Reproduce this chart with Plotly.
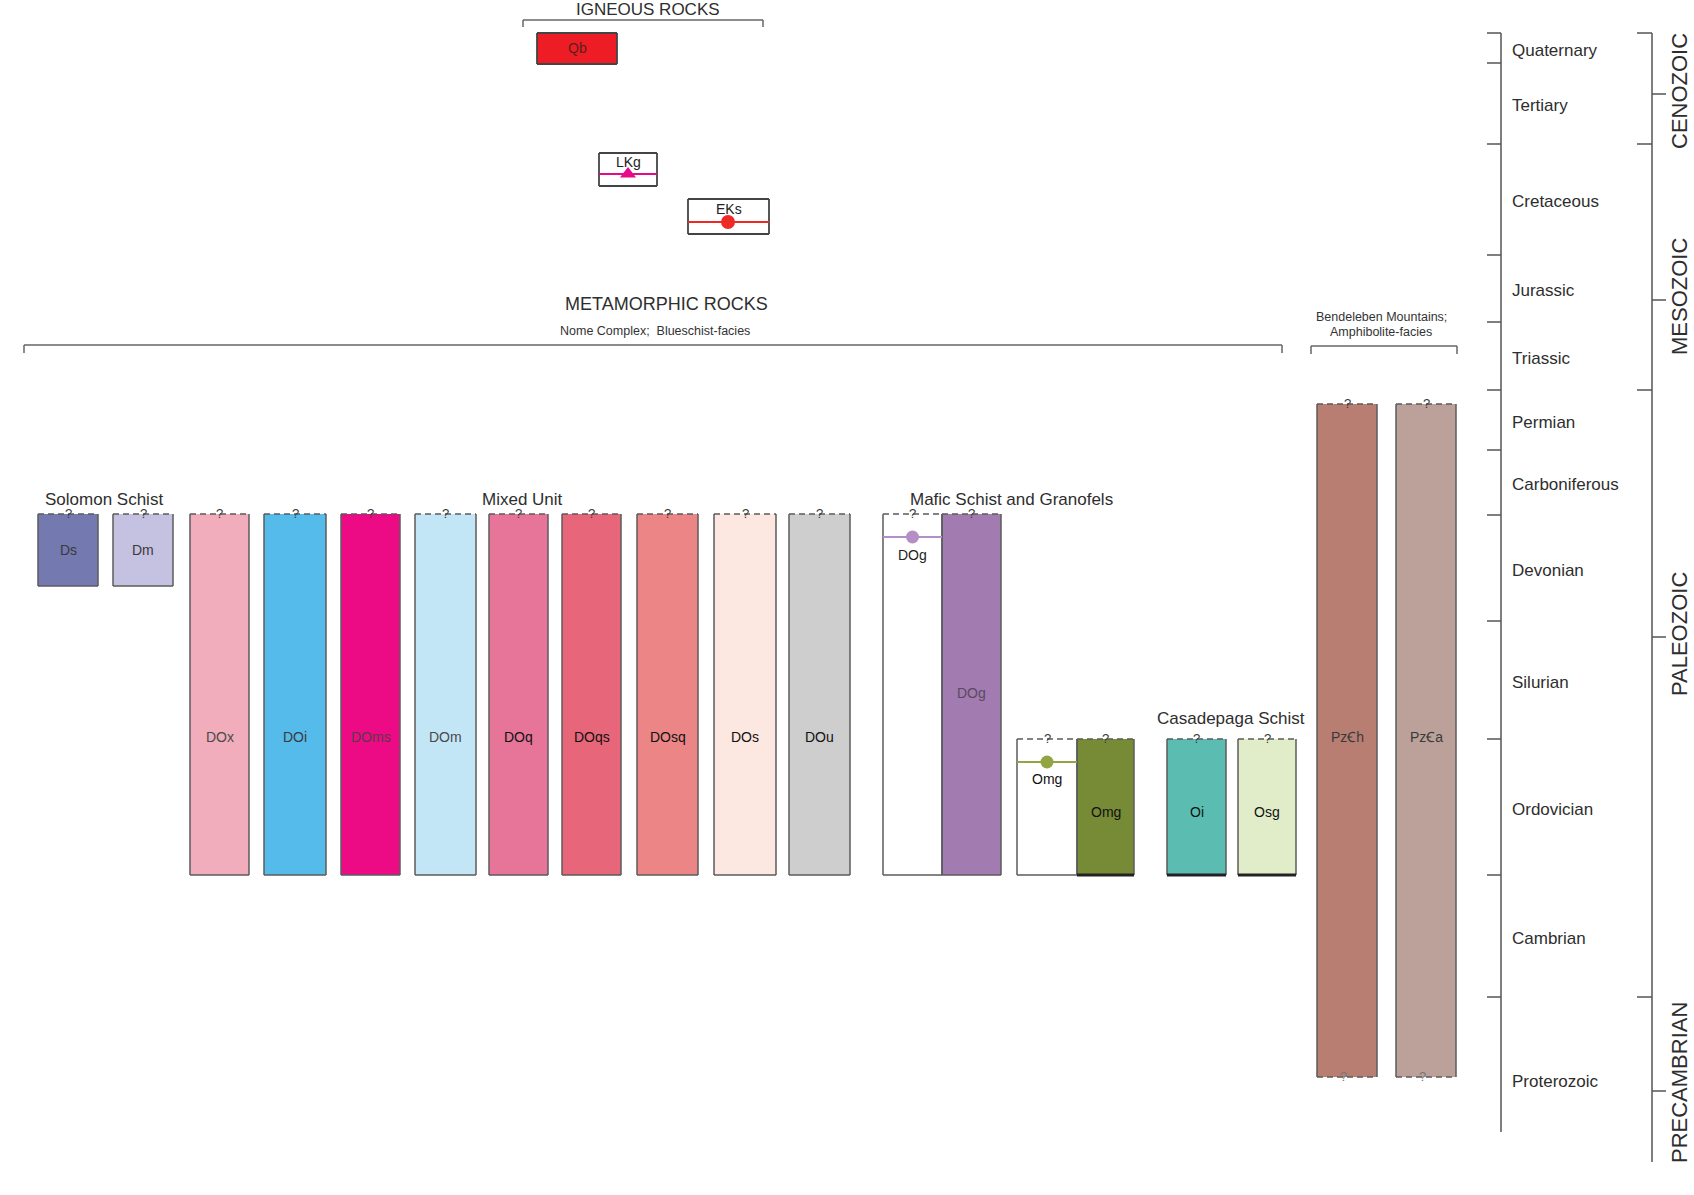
import plotly.graph_objects as go

# ---------------- DATA ----------------
# Geologic time scale (chart units increase downward = older)
period_names = ["Quaternary", "Tertiary", "Cretaceous", "Jurassic", "Triassic", "Permian",
                "Carboniferous", "Devonian", "Silurian", "Ordovician", "Cambrian", "Proterozoic"]
period_bounds = [33, 63, 144, 255, 322, 390, 450, 515, 621, 739, 875, 997, 1162]
era_names = ["CENOZOIC", "MESOZOIC", "PALEOZOIC", "PRECAMBRIAN"]
era_bounds = [33, 144, 390, 997, 1162]
era_label_at = [91, 297, 634, 1083]

# Igneous rocks
ign_codes = ["Qb", "LKg", "EKs"]
ign_top = [33, 153, 199]
ign_base = [64, 186, 234]
ign_age = [None, 174, 222]

# Metamorphic units
unit_codes = ["Ds", "Dm", "DOx", "DOi", "DOms", "DOm", "DOq", "DOqs", "DOsq", "DOs", "DOu",
              "DOg", "DOg", "Omg", "Omg", "Oi", "Osg", "Pz\uA792h", "Pz\uA792a"]
unit_top = [514, 514, 514, 514, 514, 514, 514, 514, 514, 514, 514,
            514, 514, 739, 739, 739, 739, 404, 404]
unit_base = [586, 586, 875, 875, 875, 875, 875, 875, 875, 875, 875,
             875, 875, 875, 875, 875, 875, 1077, 1077]
unit_label_at = [550, 550, 737, 737, 737, 737, 737, 737, 737, 737, 737,
                 555, 693, 779, 812, 812, 812, 737, 737]
unit_dated = [None] * 11 + [537, None, 762, None, None, None, None, None]
base_uncertain = [False] * 17 + [True, True]

group_names = ["Solomon Schist", "Mixed Unit", "Mafic Schist and Granofels", "Casadepaga Schist"]

# ---------------- LAYOUT / STYLE ----------------
FONT = "Liberation Sans, Arial, sans-serif"
EDGE = "#5b5b5b"
TXT = "#2e2e2e"

col_left = [38, 113, 190, 264, 341, 415, 489, 562, 637, 714, 789,
            883, 942, 1017, 1077, 1167, 1238, 1317, 1396]
col_right = [98, 173, 249, 326, 400, 476, 548, 621, 698, 776, 850,
             942, 1001, 1077, 1134, 1226, 1296, 1377, 1456]
unit_fill = ["#7479b0", "#c5c1e0", "#f1adbb", "#55bbea", "#ec0a85", "#c3e6f7", "#e77599",
             "#e76679", "#eb8586", "#fce7e1", "#cdcecd", "#ffffff", "#a27bb0", "#ffffff",
             "#778b37", "#5bbdb1", "#e1edc8", "#b87e72", "#bba19a"]
unit_txt = ["#3a3a3a", "#3a3a3a", "#4a4a4a", "#3a3a3a", "#5a3a4a", "#4a4a4a", "#111111",
            "#111111", "#111111", "#111111", "#111111", "#222222", "#5a4a60", "#111111",
            "#111111", "#111111", "#111111", "#3a3a3a", "#3a3a3a"]
dated_color = [None] * 11 + ["#b48fc6", None, "#93a443", None, None, None, None, None]
heavy_base = [False] * 14 + [True, True, True, False, False]

ign_left = [537, 599, 688]
ign_right = [617, 657, 769]
ign_fill = ["#ee1c24", "#ffffff", "#ffffff"]
ign_line_col = [None, "#e60a8a", "#ee2a24"]
ign_marker = [None, "triangle-up", "circle"]
ign_marker_x = [None, 628, 728]
ign_label_at = [48, 162, 209]

group_pos = [(43, 499, "left"), (522, 499, "center"), (908, 499, "left"), (1231, 718, "center")]

fig = go.Figure()

def add_lines(segs, color, width, dash="solid"):
    xs, ys = [], []
    for (x0, y0, x1, y1) in segs:
        xs += [x0, x1, None]
        ys += [y0, y1, None]
    fig.add_trace(go.Scatter(x=xs, y=ys, mode="lines", hoverinfo="skip",
                             line=dict(color=color, width=width, dash=dash),
                             showlegend=False))

annotations = []
def txt(x, y, s, size, color=TXT, xanchor="center", angle=0):
    annotations.append(dict(x=x, y=y, xref="x", yref="y", text=s, showarrow=False,
                            xanchor=xanchor, yanchor="middle", textangle=angle,
                            font=dict(family=FONT, size=size, color=color)))

# ---- unit fills (bars) ----
centers = [(l + r) / 2 for l, r in zip(col_left, col_right)]
widths = [r - l for l, r in zip(col_left, col_right)]
heights = [b - t for t, b in zip(unit_top, unit_base)]
fig.add_trace(go.Bar(x=centers, y=heights, base=unit_top, width=widths,
                     marker=dict(color=unit_fill, line=dict(width=0)),
                     hoverinfo="skip", showlegend=False))

ic = [(l + r) / 2 for l, r in zip(ign_left, ign_right)]
iw = [r - l for l, r in zip(ign_left, ign_right)]
ih = [b - t for t, b in zip(ign_top, ign_base)]
fig.add_trace(go.Bar(x=ic, y=ih, base=ign_top, width=iw,
                     marker=dict(color=ign_fill, line=dict(width=0)),
                     hoverinfo="skip", showlegend=False))

# ---- unit borders ----
solid, dashed, heavy, dashed_base = [], [], [], []
for i in range(len(unit_codes)):
    l, r, t, b = col_left[i], col_right[i], unit_top[i], unit_base[i]
    solid += [(l, t, l, b), (r, t, r, b)]
    dashed.append((l, t, r, t))
    if base_uncertain[i]:
        dashed_base.append((l, b, r, b))
    elif heavy_base[i]:
        heavy.append((l, b, r, b))
    else:
        solid.append((l, b, r, b))
add_lines(solid, EDGE, 1.5)
add_lines(heavy, "#222222", 3)
add_lines(dashed, EDGE, 1.5, "6px,4px")
add_lines(dashed_base, EDGE, 1.5, "6px,4px")

# igneous borders
iseg = []
for i in range(len(ign_codes)):
    l, r, t, b = ign_left[i], ign_right[i], ign_top[i], ign_base[i]
    iseg += [(l, t, r, t), (r, t, r, b), (r, b, l, b), (l, b, l, t)]
add_lines(iseg, "#444444", 1.8)

# dated lines + markers (igneous)
for i in range(len(ign_codes)):
    if ign_age[i] is not None:
        add_lines([(ign_left[i], ign_age[i], ign_right[i], ign_age[i])], ign_line_col[i], 2)
        fig.add_trace(go.Scatter(x=[ign_marker_x[i]], y=[ign_age[i]], mode="markers",
                                 marker=dict(symbol=ign_marker[i], size=14, color=ign_line_col[i]),
                                 hoverinfo="skip", showlegend=False))
    txt((ign_left[i] + ign_right[i]) / 2, ign_label_at[i], ign_codes[i], 14,
        "#5a2020" if i == 0 else "#222222")

# dated lines (metamorphic)
for i in range(len(unit_codes)):
    if unit_dated[i] is not None:
        add_lines([(col_left[i], unit_dated[i], col_right[i], unit_dated[i])], dated_color[i], 2)
        fig.add_trace(go.Scatter(x=[centers[i]], y=[unit_dated[i]], mode="markers",
                                 marker=dict(symbol="circle", size=13, color=dated_color[i]),
                                 hoverinfo="skip", showlegend=False))

# unit labels and question marks
for i in range(len(unit_codes)):
    txt(centers[i], unit_label_at[i], unit_codes[i], 14, unit_txt[i])
    txt(centers[i], unit_top[i] - 1, "?", 13, "#3a3a3a")
    if base_uncertain[i]:
        txt(centers[i] - 4, unit_base[i] - 1, "?", 13, "#777777")

# group labels
for name, (gx, gy, anc) in zip(group_names, group_pos):
    txt(gx, gy, name, 17, TXT, xanchor=anc)

# headings and brackets
txt(648, 9, "IGNEOUS ROCKS", 17)
txt(666, 304, "METAMORPHIC ROCKS", 18)
txt(655, 331, "Nome Complex;\u00a0 Blueschist-facies", 12.5, "#333333")
txt(1381, 317, "Bendeleben Mountains;", 12.5, "#333333")
txt(1381, 332, "Amphibolite-facies", 12.5, "#333333")
brackets = [(523, 763, 20, 27), (24, 1282, 345, 353), (1311, 1457, 346, 354)]
bseg = []
for x0, x1, y0, y1 in brackets:
    bseg += [(x0, y1, x0, y0), (x0, y0, x1, y0), (x1, y0, x1, y1)]
add_lines(bseg, "#666666", 1.5)

# ---- time scale ----
PX = 1501
tseg = [(PX, period_bounds[0], PX, 1132)]
for b in period_bounds[:-1]:
    tseg.append((1487, b, PX, b))
EX = 1652
tseg.append((EX, era_bounds[0], EX, era_bounds[-1]))
for b in era_bounds[:-1]:
    tseg.append((1637, b, EX, b))
for e in era_label_at:
    tseg.append((EX, e + 8 if e > 1000 else e + 3, 1666, e + 8 if e > 1000 else e + 3))
add_lines(tseg, "#555555", 1.5)

for i, name in enumerate(period_names):
    mid = (period_bounds[i] + period_bounds[i + 1]) / 2 + 2
    txt(1510, mid, name, 17, TXT, xanchor="left")
for name, y in zip(era_names, era_label_at):
    txt(1679, y, name, 22, TXT, angle=-90)

fig.update_layout(
    width=1694, height=1195,
    margin=dict(l=0, r=0, t=0, b=0),
    paper_bgcolor="white", plot_bgcolor="white",
    barmode="overlay", showlegend=False,
    xaxis=dict(range=[0, 1694], visible=False, fixedrange=True),
    yaxis=dict(range=[1195, 0], visible=False, fixedrange=True),
    annotations=annotations,
)

fig.write_html("out.html", config={"displayModeBar": False},
               post_script="document.body.style.margin='0';")
